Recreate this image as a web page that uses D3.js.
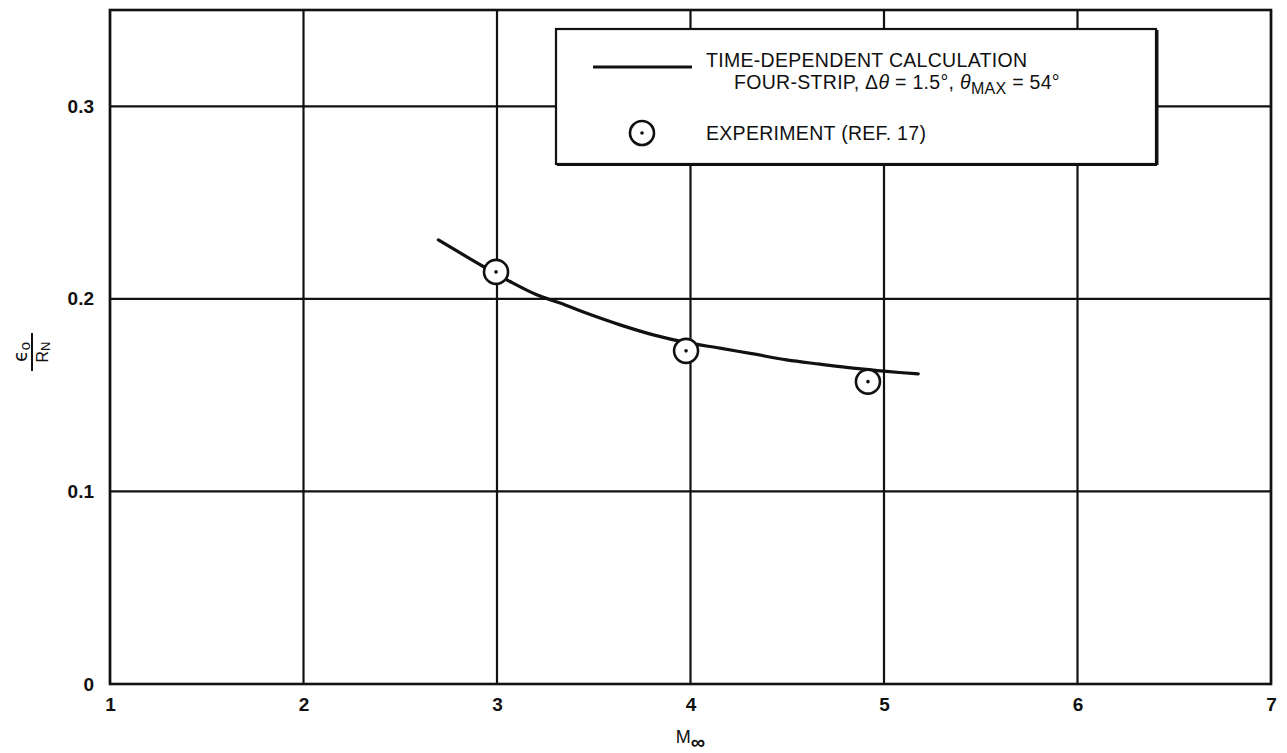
<!DOCTYPE html>
<html><head><meta charset="utf-8">
<script src="https://cdn.jsdelivr.net/npm/d3@7"></script>
<style>body{margin:0;background:#fff}svg{display:block}</style>
</head><body>
<svg id="c" width="1287" height="753"></svg>
<script>
const xTicks = [1,2,3,4,5,6,7];
const yTicks = [0,0.1,0.2,0.3];
const yTickLabels = ["0","0.1","0.2","0.3"];
const curveM = [2.697,2.929,3.067,3.205,3.326,3.464,3.636,3.808,3.980,4.152,4.325,4.497,4.669,4.841,5.014,5.177];
const curveE = [0.2306,0.2168,0.2090,0.2021,0.1978,0.1925,0.1865,0.1813,0.1773,0.1744,0.1714,0.1683,0.1661,0.1640,0.1623,0.1610];
const expM = [2.995,3.977,4.917];
const expE = [0.214,0.173,0.157];

const svg = d3.select("#c");
const font = "'Liberation Sans', Arial, Helvetica, sans-serif";
const x = d3.scaleLinear().domain([1,7]).range([110,1271]);
const y = d3.scaleLinear().domain([0,0.35]).range([684,10]);

// grid
const g = svg.append("g");
g.selectAll(".vx").data(xTicks).join("line")
  .attr("x1",d=>x(d)).attr("x2",d=>x(d)).attr("y1",y(0)).attr("y2",y(0.35))
  .attr("stroke","#111").attr("stroke-width",2.2);
g.selectAll(".hy").data(yTicks).join("line")
  .attr("x1",x(1)).attr("x2",x(7)).attr("y1",d=>y(d)).attr("y2",d=>y(d))
  .attr("stroke","#111").attr("stroke-width",2.2);
g.append("rect").attr("x",x(1)).attr("y",y(0.35)).attr("width",x(7)-x(1)).attr("height",y(0)-y(0.35))
  .attr("fill","none").attr("stroke","#111").attr("stroke-width",2.6);

// axes labels via d3 axis (ticks text only)
const xAxis = d3.axisBottom(x).tickValues(xTicks).tickSize(0).tickPadding(14).tickFormat(d3.format("d"));
const xa = svg.append("g").attr("transform",`translate(0,${y(0)})`).call(xAxis);
xa.select(".domain").remove();
xa.selectAll("text").attr("font-family",font).attr("font-size",19).attr("font-weight","bold").attr("fill","#111");

const yAxis = d3.axisLeft(y).tickValues(yTicks).tickSize(0).tickPadding(16).tickFormat((d,i)=>yTickLabels[i]);
const ya = svg.append("g").attr("transform",`translate(${x(1)},0)`).call(yAxis);
ya.select(".domain").remove();
ya.selectAll("text").attr("font-family",font).attr("font-size",19).attr("font-weight","bold").attr("fill","#111");

// x label
const xl = svg.append("text").attr("x",(x(1)+x(7))/2).attr("y",743).attr("text-anchor","middle")
  .attr("font-family",font).attr("font-size",18).attr("fill","#111");
xl.append("tspan").text("M");
xl.append("tspan").attr("dy",6).attr("font-size",20).attr("font-weight","bold").text("∞");

// y label (fraction, rotated)
const yl = svg.append("g").attr("transform","translate(32,352) rotate(-90)");
const num = yl.append("text").attr("x",0).attr("y",-5).attr("text-anchor","middle")
  .attr("font-family",font).attr("font-size",21).attr("fill","#111");
num.append("tspan").attr("font-family","'DejaVu Sans', sans-serif").attr("font-size",19).text("ϵ");
num.append("tspan").attr("font-size",15).attr("dy",3).text("o");
yl.append("line").attr("x1",-19).attr("x2",19).attr("y1",0).attr("y2",0).attr("stroke","#111").attr("stroke-width",2);
const den = yl.append("text").attr("x",0).attr("y",16).attr("text-anchor","middle")
  .attr("font-family",font).attr("font-size",16).attr("fill","#111");
den.append("tspan").text("R");
den.append("tspan").attr("font-size",13).attr("dy",2).text("N");

// curve
const pts = curveM.map((m,i)=>[m,curveE[i]]);
svg.append("path").datum(pts)
  .attr("d",d3.line().x(d=>x(d[0])).y(d=>y(d[1])).curve(d3.curveCatmullRom))
  .attr("fill","none").attr("stroke","#111").attr("stroke-width",3.2).attr("stroke-linecap","round");

// experiment points
const ep = expM.map((m,i)=>[m,expE[i]]);
svg.selectAll(".ec").data(ep).join("circle")
  .attr("cx",d=>x(d[0])).attr("cy",d=>y(d[1])).attr("r",12)
  .attr("fill","#fff").attr("stroke","#111").attr("stroke-width",2.6);
svg.selectAll(".ed").data(ep).join("circle")
  .attr("cx",d=>x(d[0])).attr("cy",d=>y(d[1])).attr("r",1.8).attr("fill","#111");

// legend
const L = svg.append("g");
L.append("rect").attr("x",556).attr("y",29).attr("width",600).attr("height",135)
  .attr("fill","#fff").attr("stroke","#111").attr("stroke-width",2.2);
L.append("line").attr("x1",557).attr("x2",1157).attr("y1",164.5).attr("y2",164.5).attr("stroke","#111").attr("stroke-width",3);
L.append("line").attr("x1",1157).attr("x2",1157).attr("y1",30).attr("y2",165).attr("stroke","#111").attr("stroke-width",3);
L.append("line").attr("x1",593).attr("x2",692).attr("y1",67).attr("y2",67).attr("stroke","#111").attr("stroke-width",3.2);
L.append("circle").attr("cx",642).attr("cy",133).attr("r",12).attr("fill","#fff").attr("stroke","#111").attr("stroke-width",2.6);
L.append("circle").attr("cx",642).attr("cy",133).attr("r",1.8).attr("fill","#111");
const fs = 19.5, ls = 0.3;
const lt = (t,xx,yy)=>L.append("text").attr("x",xx).attr("y",yy).attr("font-family",font).attr("font-size",fs).attr("letter-spacing",ls).attr("fill","#111").text(t);
lt("TIME-DEPENDENT CALCULATION",706,67);
const r2 = L.append("text").attr("x",734).attr("y",89).attr("font-family",font).attr("font-size",fs).attr("letter-spacing",ls).attr("fill","#111");
r2.append("tspan").text("FOUR-STRIP, Δ");
r2.append("tspan").attr("font-style","italic").text("θ");
r2.append("tspan").text(" = 1.5°, ");
r2.append("tspan").attr("font-style","italic").text("θ");
r2.append("tspan").attr("font-size",16).attr("dy",5).text("MAX");
r2.append("tspan").attr("dy",-5).text(" = 54°");
lt("EXPERIMENT (REF. 17)",706,140);
</script>
</body></html>
